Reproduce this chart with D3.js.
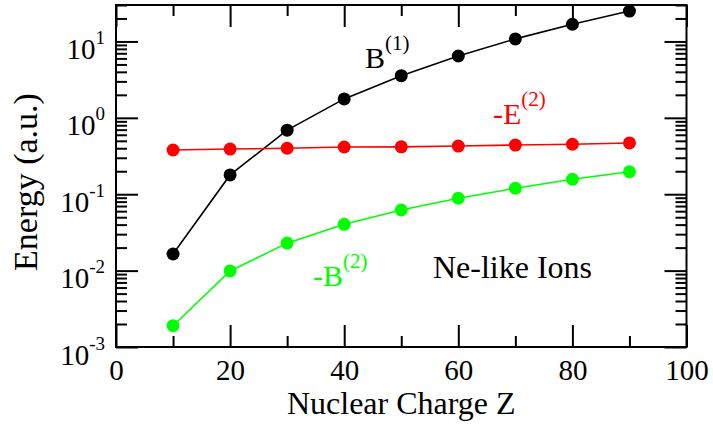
<!DOCTYPE html>
<html>
<head>
<meta charset="utf-8">
<script src="https://cdn.jsdelivr.net/npm/d3@7"></script>
<style>
  body { margin: 0; background: #fff; }
  text { font-family: "Liberation Serif", "Times New Roman", serif; }
</style>
</head>
<body>
<svg id="chart" width="713" height="426"></svg>
<script>
// Nuclear charge Z of the Ne-like ions
const charges = [10, 20, 30, 40, 50, 60, 70, 80, 90];
// Energy contributions (a.u.)
const b1 = [0.0165, 0.179, 0.69, 1.77, 3.56, 6.45, 10.8, 16.8, 25.0];
const negE2 = [0.379, 0.39, 0.40, 0.415, 0.417, 0.427, 0.44, 0.451, 0.469];
const negB2 = [0.0019, 0.0099, 0.0229, 0.0404, 0.0622, 0.0885, 0.1197, 0.157, 0.197];

const xMajorTicks = [0, 20, 40, 60, 80, 100];
const xMinorTicks = [10, 30, 50, 70, 90];
const yExponents = [-3, -2, -1, 0, 1];

const svg = d3.select("#chart");
const plotLeft = 116, plotRight = 686.5, plotTop = 5, plotBottom = 347;

const x = d3.scaleLinear().domain([0, 100]).range([plotLeft, plotRight]);
const y = d3.scaleLog().domain([1e-3, 30]).range([plotBottom, plotTop]);

const yMajor = yExponents.map(e => Math.pow(10, e));
const yMinor = [];
yExponents.forEach(e => {
  for (let m = 2; m <= 9; m++) {
    const v = m * Math.pow(10, e);
    if (v <= 30) yMinor.push(v);
  }
});

const majorLen = 22, minorLen = 11;

function styleAxis(g) {
  g.select(".domain").remove();
  g.selectAll(".tick line").attr("stroke", "#000").attr("stroke-width", 2);
}

// bottom axis with labels
svg.append("g")
  .attr("transform", `translate(0,${plotBottom})`)
  .call(d3.axisBottom(x).tickValues(xMajorTicks).tickSize(-majorLen).tickPadding(12).tickFormat(d3.format("d")))
  .call(styleAxis)
  .call(g => g.selectAll("text").attr("font-size", 29).attr("fill", "#000")
    .attr("font-family", "Liberation Serif, serif"));
svg.append("g")
  .attr("transform", `translate(0,${plotBottom})`)
  .call(d3.axisBottom(x).tickValues(xMinorTicks).tickSize(-minorLen).tickFormat(""))
  .call(styleAxis);
// top axis ticks
svg.append("g")
  .attr("transform", `translate(0,${plotTop})`)
  .call(d3.axisTop(x).tickValues(xMajorTicks).tickSize(-majorLen).tickFormat(""))
  .call(styleAxis);
svg.append("g")
  .attr("transform", `translate(0,${plotTop})`)
  .call(d3.axisTop(x).tickValues(xMinorTicks).tickSize(-minorLen).tickFormat(""))
  .call(styleAxis);

// left axis with power-of-ten labels
const leftAxis = svg.append("g")
  .attr("transform", `translate(${plotLeft},0)`)
  .call(d3.axisLeft(y).tickValues(yMajor).tickSize(-majorLen).tickPadding(11).tickFormat(""))
  .call(styleAxis);
leftAxis.selectAll(".tick text")
  .attr("dy", null)
  .attr("y", 17)
  .attr("fill", "#000")
  .attr("font-size", 29)
  .attr("font-family", "Liberation Serif, serif")
  .each(function(d) {
    const t = d3.select(this);
    t.append("tspan").text("10");
    t.append("tspan").attr("dy", -15).attr("font-size", 19).text(Math.round(Math.log10(d)));
  });
svg.append("g")
  .attr("transform", `translate(${plotLeft},0)`)
  .call(d3.axisLeft(y).tickValues(yMinor).tickSize(-minorLen).tickFormat(""))
  .call(styleAxis);
// right axis ticks
svg.append("g")
  .attr("transform", `translate(${plotRight},0)`)
  .call(d3.axisRight(y).tickValues(yMajor).tickSize(-majorLen).tickFormat(""))
  .call(styleAxis);
svg.append("g")
  .attr("transform", `translate(${plotRight},0)`)
  .call(d3.axisRight(y).tickValues(yMinor).tickSize(-minorLen).tickFormat(""))
  .call(styleAxis);

// frame
svg.append("rect")
  .attr("x", plotLeft).attr("y", plotTop)
  .attr("width", plotRight - plotLeft).attr("height", plotBottom - plotTop)
  .attr("fill", "none").attr("stroke", "#000").attr("stroke-width", 2);

// series
const series = [
  { values: b1, color: "#000000" },
  { values: negE2, color: "#ff0000" },
  { values: negB2, color: "#00ff00" }
];
const line = d3.line().x(d => x(d[0])).y(d => y(d[1]));
series.forEach(s => {
  const pts = charges.map((z, i) => [z, s.values[i]]);
  svg.append("path").datum(pts)
    .attr("d", line).attr("fill", "none")
    .attr("stroke", s.color).attr("stroke-width", 1.6);
  svg.append("g").selectAll("circle").data(pts).join("circle")
    .attr("cx", d => x(d[0])).attr("cy", d => y(d[1]))
    .attr("r", 6.5).attr("fill", s.color);
});

// series labels with superscripts
function supLabel(px, py, base, sup, color) {
  const t = svg.append("text").attr("x", px).attr("y", py)
    .attr("font-size", 30).attr("fill", color);
  t.append("tspan").text(base);
  t.append("tspan").attr("dy", -18).attr("font-size", 21).text(sup);
}
supLabel(365, 68, "B", "(1)", "#000");
supLabel(493, 124, "-E", "(2)", "#ff0000");
supLabel(313, 286, "-B", "(2)", "#00ff00");

svg.append("text").attr("x", 433).attr("y", 278)
  .attr("font-size", 32).attr("fill", "#000").text("Ne-like Ions");

// axis titles
svg.append("text")
  .attr("x", (plotLeft + plotRight) / 2).attr("y", 414)
  .attr("text-anchor", "middle").attr("font-size", 32).attr("fill", "#000")
  .text("Nuclear Charge Z");
svg.append("text")
  .attr("transform", `translate(37,182) rotate(-90)`)
  .attr("text-anchor", "middle").attr("font-size", 34).attr("fill", "#000")
  .text("Energy (a.u.)");
</script>
</body>
</html>
